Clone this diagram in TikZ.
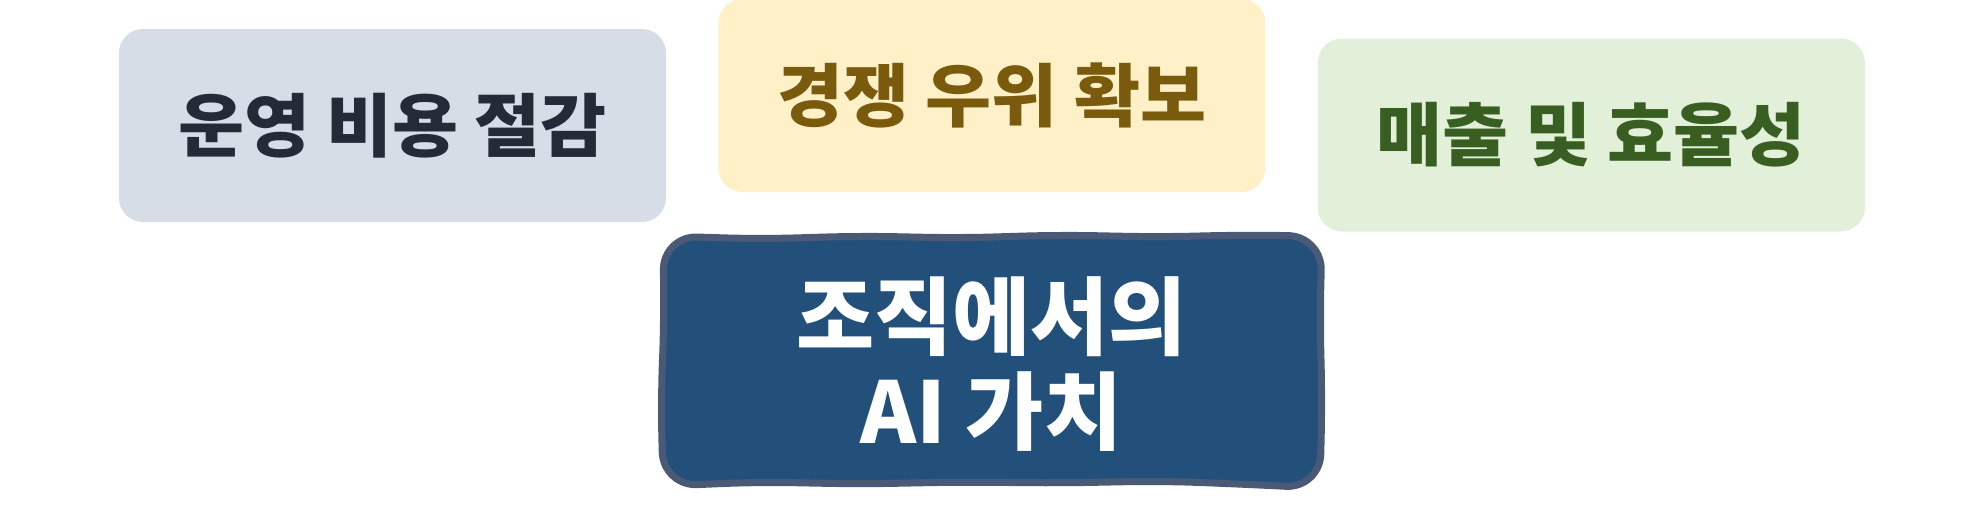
\documentclass[tikz,border=0pt]{standalone}
\usepackage{fontspec}
\newfontfamily\krfont{Noto Sans CJK KR}
\newfontfamily\krwide{Noto Sans CJK KR}[FakeStretch=1.04]
\usetikzlibrary{positioning}

\definecolor{costfill}{HTML}{D7DDE7}
\definecolor{costtext}{HTML}{232A38}
\definecolor{gainfill}{HTML}{FFF0C8}
\definecolor{gaintext}{HTML}{7A5A0C}
\definecolor{salefill}{HTML}{E2F0D9}
\definecolor{saletext}{HTML}{395E22}
\definecolor{corefill}{HTML}{23507B}
\definecolor{corerim}{HTML}{4A5A76}

\begin{document}
\begin{tikzpicture}[
      x=1pt, y=1pt,
      mybox/.style={
         rectangle,
         rounded corners=24pt,
         inner sep=0pt,
         minimum width=547pt,
         minimum height=193pt,
         font=\krwide\bfseries\fontsize{69}{80}\selectfont},
      myrim/.style={draw=corerim, fill=corefill, line width=7pt, rounded corners=34pt},
      node distance=52pt
      ]
\useasboundingbox (0,0) rectangle (1969,-528);

\node[mybox,fill=costfill,text=costtext] at (392.5,-125.5) (cost) {운영 비용 절감};
\node[mybox,fill=gainfill,text=gaintext,right=of cost,yshift=30pt] (gain) {경쟁 우위 확보};
\node[mybox,fill=salefill,text=saletext,right=of gain,yshift=-39.5pt] (sale) {매출 및 효율성};

% wobbly centre box
\draw[myrim] (663,-236) -- (760,-239) -- (860,-236) -- (960,-238) -- (1060,-235)
      -- (1160,-237) -- (1240,-235) -- (1322,-236)
      -- (1320,-320) -- (1322,-400) -- (1320,-488)
      -- (1240,-484) -- (1160,-481) -- (1060,-483) -- (960,-482) -- (860,-484)
      -- (760,-482) -- (663,-486)
      -- (661,-400) -- (664,-320) -- cycle;
\node[align=center,text=white,inner sep=0pt,
      font=\krfont\bfseries\fontsize{85}{95}\selectfont] at (991.5,-364) (core) {조직에서의\\AI 가치};

\end{tikzpicture}
\end{document}
